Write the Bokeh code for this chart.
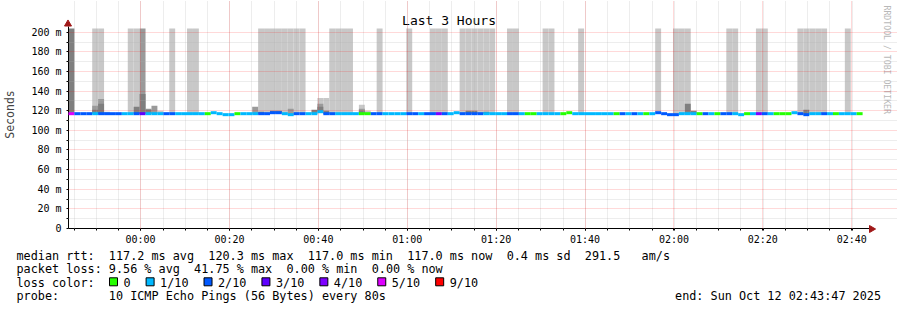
import math
import pandas as pd
from bokeh.plotting import figure
from bokeh.models import (ColumnDataSource, FixedTicker, DatetimeTickFormatter, Range1d)
from bokeh.embed import file_html
from bokeh.resources import INLINE
from bokeh.core.properties import value

# ---------------- data ----------------
TITLE = "Last 3 Hours"
Y_LABEL = "Seconds"
WATERMARK = "RRDTOOL / TOBI OETIKER"
START = "2025-10-11 23:43:47"
END = "2025-10-12 02:43:47"
STEP_SECONDS = 80
Y_MAX = 203.8            # top of the value scale (ms)

median_ms = [
    117, 117, 117, 117, 117, 117, 117, 117, 117, 117,
    117, 117, 117, 117, 117, 117, 117, 117, 117, 117,
    117, 117, 117, 117, 118, 117, 116, 116, 117, 117,
    117, 117, 117, 117, 118, 118, 117, 116, 117, 117,
    117, 117, 119, 117, 117, 117, 117, 117, 117, 117,
    117, 117, 117, 117, 117, 117, 117, 117, 117, 117,
    117, 117, 117, 117, 117, 118, 117, 117, 117, 117,
    117, 117, 117, 117, 117, 117, 117, 117, 117, 117,
    117, 117, 117, 117, 118, 117, 117, 117, 117, 117,
    117, 117, 117, 117, 117, 117, 117, 117, 117, 118,
    117, 116, 116, 117, 117, 117, 117, 117, 117, 117,
    117, 117, 117, 116, 117, 117, 117, 117, 117, 117,
    117, 117, 118, 117, 116, 117, 117, 117, 117, 117,
    117, 117, 117, 117,
]

loss_count = [
    5, 2, 2, 2, 1, 2, 2, 2, 2, 1,
    1, 2, 3, 1, 1, 1, 2, 2, 1, 1,
    1, 1, 1, 0, 1, 1, 1, 1, 0, 1,
    1, 1, 2, 2, 2, 2, 1, 1, 2, 2,
    1, 1, 1, 2, 2, 1, 1, 1, 1, 0,
    0, 2, 2, 1, 1, 1, 1, 2, 2, 1,
    2, 2, 4, 2, 1, 1, 2, 2, 2, 2,
    1, 1, 1, 1, 2, 2, 1, 0, 0, 1,
    1, 1, 1, 0, 0, 1, 1, 1, 1, 1,
    1, 1, 0, 2, 1, 2, 1, 0, 1, 2,
    2, 2, 2, 1, 1, 1, 0, 2, 1, 0,
    2, 2, 1, 1, 0, 1, 4, 2, 1, 0,
    0, 0, 1, 2, 2, 1, 1, 2, 1, 0,
    1, 1, 1, 0,
]

# smoke (ping spread) tops per step, in ms; 250 = beyond the top of the scale
light_steps = [4, 5, 6, 10, 11, 15, 17, 20, 21, 32, 33, 34, 35, 36, 37, 38, 39,
               42, 43, 44, 45, 46, 47, 49, 50, 52, 57, 61, 62, 63, 66, 67, 68, 69,
               70, 71, 74, 75, 80, 81, 86, 99, 102, 103, 104, 111, 112, 116, 117,
               123, 124, 125, 126, 127, 131]
light_top = [250, 250, 119, 250, 250, 120, 250, 250, 250, 250, 250, 250, 250, 250, 250, 250, 250,
             133, 133, 250, 250, 250, 250, 126, 120, 250, 250, 250, 250, 250, 250, 250, 250, 250,
             250, 250, 250, 250, 250, 250, 250, 250, 250, 250, 250, 250, 250, 250, 250,
             250, 250, 250, 250, 250, 250]
mid_steps = [4, 5, 12, 13, 14, 31, 37, 42, 49]
mid_top = [125, 132, 250, 122, 125, 124, 122, 127, 122]
dark_steps = [0, 4, 5, 11, 12, 13, 32, 34, 35, 41, 42, 43, 49, 67, 68, 70, 104, 105, 124]
dark_top = [250, 121, 127, 124, 137, 121, 119, 120, 120, 121, 124, 120, 120, 120, 120, 119, 127, 120, 121]

loss_levels = [0, 1, 2, 3, 4, 5, 9]
loss_labels = ["0", "1/10", "2/10", "3/10", "4/10", "5/10", "9/10"]
loss_colors = ["#26ff00", "#00b8ff", "#0059ff", "#5e00ff", "#7e00ff", "#dd00ff", "#ff0000"]

y_ticks = [0, 20, 40, 60, 80, 100, 120, 140, 160, 180, 200]
y_minor = [10, 30, 50, 70, 90, 110, 130, 150, 170, 190]
y_tick_labels = ["0", "20 m", "40 m", "60 m", "80 m", "100 m", "120 m", "140 m", "160 m", "180 m", "200 m"]
x_tick_times = ["2025-10-12 00:00", "2025-10-12 00:20", "2025-10-12 00:40", "2025-10-12 01:00",
                "2025-10-12 01:20", "2025-10-12 01:40", "2025-10-12 02:00", "2025-10-12 02:20",
                "2025-10-12 02:40"]

rtt_label = "median rtt:"
rtt_stats = ["117.2 ms avg", "120.3 ms max", "117.0 ms min", "117.0 ms now", "0.4 ms sd", "291.5", "am/s"]
loss_label = "packet loss:"
loss_stats = ["9.56 % avg", "41.75 % max", "0.00 % min", "0.00 % now"]
color_label = "loss color:"
probe_label = "probe:"
probe_text = "10 ICMP Echo Pings (56 Bytes) every 80s"
end_text = "end: Sun Oct 12 02:43:47 2025"

# ---------------- helpers ----------------
def to_ms(s):
    return pd.Timestamp(s).value / 1e6

def color_for(n):
    c = loss_colors[0]
    for lvl, col in zip(loss_levels, loss_colors):
        if n >= lvl:
            c = col
    return c

x_start, x_end = to_ms(START), to_ms(END)
step_ms = STEP_SECONDS * 1000
t_left = [x_start + i * step_ms for i in range(len(median_ms))]
t_right = [t + step_ms for t in t_left]

MONO = "DejaVu Sans Mono"
W = 897
FL = 67                 # canvas x of the value-area's left edge
DATA_R = 868            # canvas x of the value-area's right edge
DATA_T, DATA_B = 28, 228  # canvas y of top / bottom of value area
MAIN_H = 248
LEG_H = 310 - MAIN_H

kx = (DATA_R - FL) / (x_end - x_start)      # px per ms of time
ky = (DATA_B - DATA_T) / Y_MAX               # px per ms of rtt
def dx(cx):
    return x_start + (cx - FL) / kx
def dy(cy):
    return (DATA_B - cy) / ky

p = figure(width=W, height=MAIN_H, x_axis_type="datetime", title=None,
           x_range=Range1d(x_start, dx(W)), y_range=Range1d(0, dy(0)),
           output_backend="svg", toolbar_location=None,
           min_border_left=FL, min_border_right=0, min_border_top=0,
           min_border_bottom=MAIN_H - DATA_B)
p.outline_line_color = None
p.background_fill_color = "white"
p.border_fill_color = "white"

# smoke
def smoke(steps, tops, color):
    src = ColumnDataSource(dict(
        left=[t_left[i] for i in steps], right=[t_right[i] for i in steps],
        bottom=[median_ms[i] for i in steps], top=[min(t, Y_MAX) for t in tops]))
    p.quad(left="left", right="right", bottom="bottom", top="top", source=src,
           fill_color=color, line_color=None)

smoke(light_steps, light_top, "#c8c8c8")
smoke(mid_steps, mid_top, "#9a9a9a")
smoke(dark_steps, dark_top, "#7f7f7f")

# median line coloured by loss
seg_src = ColumnDataSource(dict(x0=t_left, x1=t_right, y=median_ms,
                                color=[color_for(n) for n in loss_count]))
med = p.segment(x0="x0", y0="y", x1="x1", y1="y", source=seg_src, line_color="color",
                line_width=3, line_cap="butt")
med.level = "annotation"

# axes
major_x = [to_ms(s) for s in x_tick_times]
minor_x = [t for t in (x_start + 77000 + k * 300000 for k in range(37)) if t < x_end]
p.xaxis.ticker = FixedTicker(ticks=major_x, minor_ticks=minor_x)
p.xaxis.formatter = DatetimeTickFormatter(minutes="%H:%M", hourmin="%H:%M", hours="%H:%M",
                                          minsec="%H:%M", days="%H:%M")
p.xaxis.bounds = (x_start, dx(DATA_R + 1))
p.yaxis.ticker = FixedTicker(ticks=y_ticks, minor_ticks=y_minor)
p.yaxis.major_label_overrides = {t: l for t, l in zip(y_ticks, y_tick_labels)}
p.yaxis.bounds = (0, dy(DATA_T - 2))
p.yaxis.axis_label = Y_LABEL
p.yaxis.axis_label_text_font = MONO
p.yaxis.axis_label_text_font_size = "11.5px"
p.yaxis.axis_label_text_font_style = "normal"
p.yaxis.axis_label_standoff = 11
for ax in (p.xaxis[0], p.yaxis[0]):
    ax.axis_line_color = "black"
    ax.major_tick_line_color = "black"
    ax.minor_tick_line_color = "black"
    ax.major_tick_in = 0
    ax.major_tick_out = 2
    ax.minor_tick_in = 0
    ax.minor_tick_out = 2
    ax.major_label_text_font = MONO
    ax.major_label_text_font_size = "10px"
    ax.major_label_text_color = "black"
p.xaxis.major_label_standoff = 3
p.yaxis.major_label_standoff = 5

# grids, limited to the value area
p.xgrid.bounds = (0, Y_MAX)
p.ygrid.bounds = (x_start, x_end)
for g in (p.xgrid[0], p.ygrid[0]):
    g.grid_line_color = "#ff0000"
    g.grid_line_alpha = 0.3
    g.grid_line_dash = "1 1"
    g.minor_grid_line_color = "#b0b0b0"
    g.minor_grid_line_alpha = 0.45
    g.minor_grid_line_dash = "1 1"
    g.level = "guide"

# title, axis arrows and watermark
p.text(x=[dx(448)], y=[dy(20)], text=[TITLE], text_font=value(MONO), text_font_size="13px",
       text_align="center", text_baseline="middle", text_color="black")
ARROW = "#a01818"
up = p.scatter(x=[dx(FL - 0.5)], y=[dy(DATA_T - 4.5)], marker="triangle", size=7,
               fill_color=ARROW, line_color=ARROW)
rt = p.scatter(x=[dx(DATA_R + 3)], y=[dy(DATA_B + 0.5)], marker="triangle", size=7,
               angle=-math.pi / 2, fill_color=ARROW, line_color=ARROW)
up.level = rt.level = "overlay"
p.text(x=[dx(886)], y=[dy(5)], text=[WATERMARK], angle=-math.pi / 2, text_font=value(MONO),
       text_font_size="8.2px", text_color="#b8b8b8", text_align="left", text_baseline="middle")

# ---------------- legend block ----------------
lg = figure(width=W, height=LEG_H, x_range=Range1d(0, W), y_range=Range1d(LEG_H, 0),
            output_backend="svg", toolbar_location=None, min_border=0,
            x_axis_location=None, y_axis_location=None)
lg.outline_line_color = None
lg.grid.visible = False

CW = 11.8 * 0.602   # monospace character width
X0 = 16
rows = [255 - MAIN_H, 268.3 - MAIN_H, 282.3 - MAIN_H, 295.7 - MAIN_H]

tx, ty, tt = [], [], []
def put(text, col, row):
    tx.append(X0 + col * CW); ty.append(rows[row]); tt.append(text)

put(rtt_label, 0, 0)
for txt, col in zip(rtt_stats, [13, 27, 41, 55, 69, 80, 88]):
    put(txt, col, 0)
put(loss_label, 0, 1)
for txt, col in zip(loss_stats, [13, 25, 38, 50]):
    put(txt, col, 1)
put(color_label, 0, 2)
put(probe_label, 0, 3)
put(probe_text, 13, 3)

bx = []
x = 109.0
for lab in loss_labels:
    bx.append(x + 4)
    tx.append(x + 14); ty.append(rows[2]); tt.append(lab)
    x += 14 + len(lab) * CW + 15.5

lg.text(x="x", y="y", text="text", source=ColumnDataSource(dict(x=tx, y=ty, text=tt)),
        text_font=value(MONO), text_font_size="11.8px", text_baseline="middle",
        text_align="left", text_color="black")
lg.text(x=[880.5], y=[rows[3]], text=[end_text], text_font=value(MONO), text_font_size="11.8px",
        text_baseline="middle", text_align="right", text_color="black")
lg.rect(x=bx, y=[281.3 - MAIN_H] * len(bx), width=8, height=8, fill_color=loss_colors,
        line_color="black", line_width=1)

open("out.html", "w").write(file_html([p, lg], INLINE))
